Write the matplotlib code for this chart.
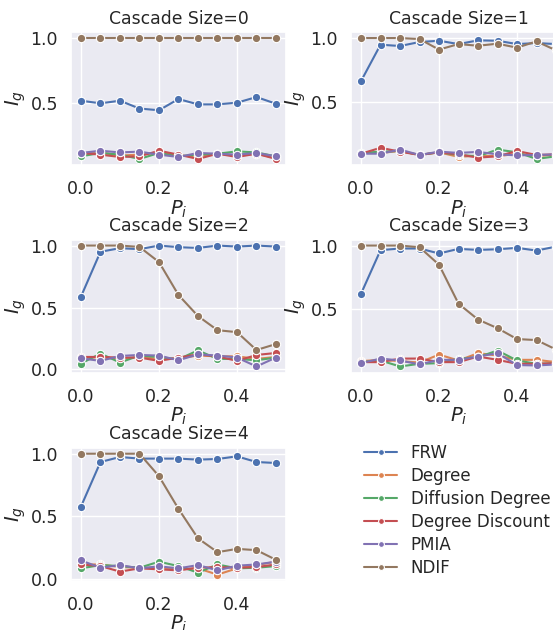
import numpy as np
import matplotlib
matplotlib.use('Agg')
import matplotlib.pyplot as plt
import seaborn as sns

sns.set_theme()

# x axis: probability P_i
p_i = [0.0, 0.05, 0.1, 0.15, 0.2, 0.25, 0.3, 0.35, 0.4, 0.45, 0.5]
methods = ['FRW', 'Degree', 'Diffusion Degree', 'Degree Discount', 'PMIA', 'NDIF']

# I_g per cascade size, one list per method
cs0_frw = [0.52, 0.50, 0.52, 0.46, 0.447, 0.533, 0.492, 0.492, 0.505, 0.548, 0.497]
cs0_degree = [0.114, 0.124, 0.10, 0.107, 0.124, 0.10, 0.094, 0.114, 0.10, 0.114, 0.081]
cs0_diffusion = [0.094, 0.12, 0.107, 0.074, 0.12, 0.094, 0.107, 0.114, 0.132, 0.124, 0.094]
cs0_discount = [0.12, 0.107, 0.089, 0.094, 0.137, 0.107, 0.074, 0.114, 0.089, 0.114, 0.074]
cs0_pmia = [0.12, 0.137, 0.124, 0.13, 0.107, 0.089, 0.12, 0.114, 0.107, 0.12, 0.094]
cs0_ndif = [1.0, 1.0, 1.0, 1.0, 1.0, 1.0, 1.0, 1.0, 1.0, 1.0, 1.0]

cs1_frw = [0.664, 0.948, 0.938, 0.969, 0.979, 0.953, 0.982, 0.979, 0.953, 0.961, 0.953]
cs1_degree = [0.104, 0.104, 0.119, 0.088, 0.109, 0.073, 0.083, 0.078, 0.098, 0.078, 0.093]
cs1_diffusion = [0.104, 0.114, 0.119, 0.088, 0.109, 0.088, 0.078, 0.13, 0.109, 0.057, 0.078]
cs1_discount = [0.098, 0.144, 0.114, 0.088, 0.109, 0.093, 0.067, 0.078, 0.119, 0.088, 0.093]
cs1_pmia = [0.098, 0.098, 0.13, 0.088, 0.114, 0.104, 0.112, 0.093, 0.085, 0.088, 0.093]
cs1_ndif = [1.0, 1.0, 1.0, 0.992, 0.91, 0.953, 0.94, 0.956, 0.925, 0.974, 0.904]

cs2_frw = [0.588, 0.95, 0.979, 0.971, 1.0, 0.987, 0.981, 1.0, 0.992, 1.0, 0.992]
cs2_degree = [0.096, 0.096, 0.085, 0.101, 0.085, 0.09, 0.112, 0.106, 0.106, 0.085, 0.101]
cs2_diffusion = [0.048, 0.128, 0.056, 0.112, 0.10, 0.082, 0.154, 0.085, 0.085, 0.074, 0.096]
cs2_discount = [0.101, 0.101, 0.096, 0.096, 0.069, 0.096, 0.122, 0.106, 0.069, 0.117, 0.133]
cs2_pmia = [0.09, 0.069, 0.109, 0.117, 0.112, 0.074, 0.122, 0.112, 0.096, 0.024, 0.096]
cs2_ndif = [1.0, 1.0, 1.0, 0.989, 0.867, 0.601, 0.431, 0.317, 0.301, 0.157, 0.205]

cs3_frw = [0.622, 0.964, 0.977, 0.977, 0.938, 0.974, 0.966, 0.971, 0.982, 0.961, 0.992]
cs3_degree = [0.094, 0.104, 0.094, 0.083, 0.145, 0.099, 0.156, 0.138, 0.104, 0.104, 0.086]
cs3_diffusion = [0.086, 0.099, 0.052, 0.073, 0.078, 0.112, 0.125, 0.177, 0.099, 0.073, 0.078]
cs3_discount = [0.086, 0.086, 0.114, 0.114, 0.086, 0.086, 0.13, 0.104, 0.073, 0.073, 0.078]
cs3_pmia = [0.078, 0.114, 0.099, 0.068, 0.104, 0.104, 0.13, 0.156, 0.063, 0.06, 0.068]
cs3_ndif = [1.0, 1.0, 1.0, 0.987, 0.85, 0.544, 0.42, 0.352, 0.267, 0.259, 0.185]

cs4_frw = [0.579, 0.934, 0.974, 0.961, 0.961, 0.961, 0.953, 0.958, 0.979, 0.934, 0.926]
cs4_degree = [0.118, 0.118, 0.097, 0.092, 0.092, 0.079, 0.087, 0.037, 0.087, 0.113, 0.14]
cs4_diffusion = [0.087, 0.113, 0.105, 0.092, 0.14, 0.105, 0.053, 0.118, 0.087, 0.092, 0.105]
cs4_discount = [0.118, 0.105, 0.061, 0.087, 0.079, 0.071, 0.092, 0.097, 0.092, 0.097, 0.118]
cs4_pmia = [0.15, 0.092, 0.113, 0.087, 0.103, 0.087, 0.113, 0.071, 0.108, 0.118, 0.14]
cs4_ndif = [1.0, 1.0, 1.0, 1.0, 0.821, 0.561, 0.326, 0.216, 0.242, 0.232, 0.155]

cascades = [
    [cs0_frw, cs0_degree, cs0_diffusion, cs0_discount, cs0_pmia, cs0_ndif],
    [cs1_frw, cs1_degree, cs1_diffusion, cs1_discount, cs1_pmia, cs1_ndif],
    [cs2_frw, cs2_degree, cs2_diffusion, cs2_discount, cs2_pmia, cs2_ndif],
    [cs3_frw, cs3_degree, cs3_diffusion, cs3_discount, cs3_pmia, cs3_ndif],
    [cs4_frw, cs4_degree, cs4_diffusion, cs4_discount, cs4_pmia, cs4_ndif],
]

colors = sns.color_palette('deep', 6)

fig = plt.figure(figsize=(5.53, 6.3), dpi=100)

# axes positions: the right column runs past the figure edge, as in the original
lefts = [0.1288, 0.6352]
bottoms = [0.7381, 0.4087, 0.0783]
w, h = 0.3879, 0.2111

handles = []
for k, series in enumerate(cascades):
    row, col = divmod(k, 2)
    ax = fig.add_axes([lefts[col], bottoms[row], w, h])
    for j, vals in enumerate(series):
        line, = ax.plot(p_i, vals, color=colors[j], marker='o', markersize=6,
                        markeredgecolor='white', markeredgewidth=0.8,
                        linewidth=1.5, label=methods[j])
        if k == 0:
            handles.append(line)
    ax.set_title('Cascade Size=%d' % k, fontsize=12.4)
    ax.set_xlabel('$P_i$', fontsize=14, labelpad=0)
    ax.set_ylabel('$I_g$', fontsize=14, labelpad=2)
    ax.tick_params(labelsize=12.5)
    ax.tick_params(axis='x', pad=5)
    ax.set_xticks([0.0, 0.2, 0.4])
    ax.margins(x=0.05, y=0.05)
    ax.autoscale_view()
    lo, hi = ax.get_ylim()
    ax.set_yticks([t for t in [0.0, 0.5, 1.0] if lo <= t <= hi])

fig.legend(handles, methods, loc='upper left', bbox_to_anchor=(0.631, 0.3195),
           frameon=False, fontsize=12, labelspacing=0.3, markerscale=0.7)

fig.savefig('out.png', dpi=100)
